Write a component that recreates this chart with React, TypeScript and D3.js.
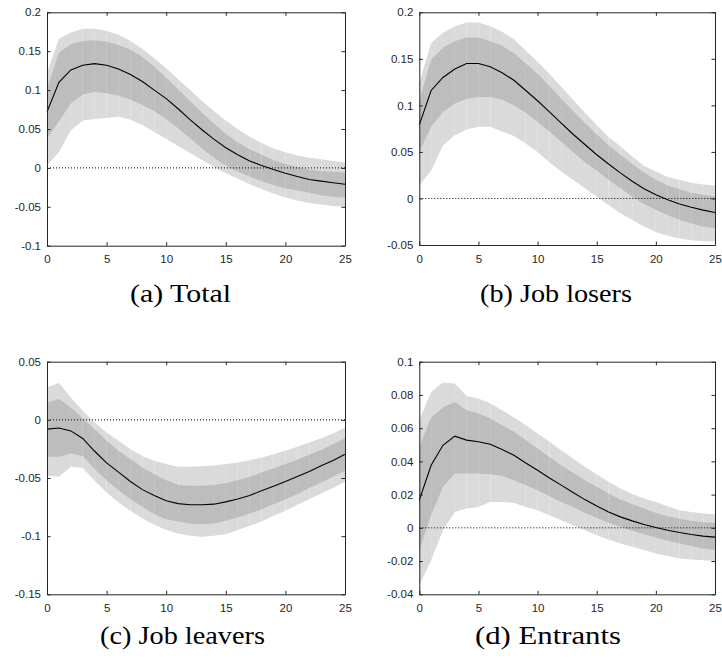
import React, { useEffect, useRef } from "react";
import * as d3 from "d3";

// Horizon (quarters after the shock) and shared x ticks
const steps = [0, 1, 2, 3, 4, 5, 6, 7, 8, 9, 10, 11, 12, 13, 14, 15, 16, 17, 18, 19, 20, 21, 22, 23, 24, 25];
const xTicks = [0, 5, 10, 15, 20, 25];

// (a) Total
const totalMedian = [0.072, 0.110, 0.126, 0.132, 0.134, 0.132, 0.127, 0.120, 0.111, 0.100, 0.089, 0.076, 0.062, 0.049, 0.037, 0.026, 0.017, 0.009, 0.003, -0.002, -0.007, -0.011, -0.015, -0.017, -0.019, -0.021];
const totalInnerUp = [0.102, 0.148, 0.159, 0.163, 0.164, 0.162, 0.158, 0.152, 0.143, 0.130, 0.116, 0.101, 0.086, 0.071, 0.057, 0.044, 0.033, 0.024, 0.017, 0.010, 0.005, 0.001, -0.002, -0.004, -0.005, -0.006];
const totalInnerLo = [0.038, 0.060, 0.083, 0.094, 0.098, 0.096, 0.093, 0.088, 0.081, 0.073, 0.063, 0.051, 0.038, 0.025, 0.013, 0.003, -0.005, -0.011, -0.017, -0.022, -0.026, -0.029, -0.032, -0.035, -0.037, -0.038];
const totalOuterUp = [0.122, 0.166, 0.174, 0.179, 0.179, 0.176, 0.171, 0.163, 0.153, 0.141, 0.128, 0.114, 0.100, 0.086, 0.073, 0.061, 0.050, 0.040, 0.032, 0.025, 0.020, 0.016, 0.013, 0.011, 0.009, 0.007];
const totalOuterLo = [0.003, 0.020, 0.048, 0.061, 0.063, 0.064, 0.066, 0.062, 0.055, 0.046, 0.037, 0.028, 0.019, 0.010, 0.001, -0.007, -0.014, -0.021, -0.027, -0.033, -0.038, -0.042, -0.045, -0.047, -0.049, -0.050];
const totalYTicks = [-0.1, -0.05, 0, 0.05, 0.1, 0.15, 0.2];
const totalYLabels = ["-0.1", "-0.05", "0", "0.05", "0.1", "0.15", "0.2"];

// (b) Job losers
const losersMedian = [0.079, 0.116, 0.130, 0.139, 0.145, 0.145, 0.1415, 0.135, 0.127, 0.116, 0.105, 0.093, 0.081, 0.069, 0.058, 0.047, 0.037, 0.0275, 0.0185, 0.0105, 0.004, -0.0015, -0.006, -0.0095, -0.0125, -0.015];
const losersInnerUp = [0.105, 0.149, 0.162, 0.169, 0.173, 0.173, 0.169, 0.164, 0.156, 0.145, 0.134, 0.121, 0.107, 0.094, 0.081, 0.069, 0.057, 0.047, 0.037, 0.028, 0.020, 0.014, 0.010, 0.006, 0.004, 0.002];
const losersInnerLo = [0.050, 0.077, 0.093, 0.102, 0.107, 0.109, 0.109, 0.106, 0.100, 0.092, 0.082, 0.072, 0.061, 0.050, 0.039, 0.030, 0.020, 0.011, 0.002, -0.006, -0.012, -0.018, -0.023, -0.027, -0.030, -0.032];
const losersOuterUp = [0.124, 0.167, 0.178, 0.185, 0.189, 0.189, 0.185, 0.179, 0.171, 0.159, 0.147, 0.134, 0.120, 0.106, 0.092, 0.079, 0.066, 0.056, 0.045, 0.035, 0.029, 0.023, 0.020, 0.017, 0.015, 0.014];
const losersOuterLo = [0.014, 0.030, 0.057, 0.068, 0.074, 0.077, 0.077, 0.072, 0.067, 0.059, 0.050, 0.039, 0.029, 0.020, 0.011, 0.002, -0.007, -0.016, -0.023, -0.030, -0.036, -0.040, -0.043, -0.045, -0.046, -0.046];
const losersYTicks = [-0.05, 0, 0.05, 0.1, 0.15, 0.2];
const losersYLabels = ["-0.05", "0", "0.05", "0.1", "0.15", "0.2"];

// (c) Job leavers
const leaversMedian = [-0.008, -0.007, -0.0095, -0.016, -0.027, -0.037, -0.045, -0.053, -0.060, -0.065, -0.0695, -0.072, -0.073, -0.073, -0.0725, -0.0705, -0.068, -0.065, -0.061, -0.057, -0.053, -0.0487, -0.0444, -0.0395, -0.035, -0.0295];
const leaversInnerUp = [0.015, 0.018, 0.0106, 0.0014, -0.008, -0.018, -0.0266, -0.0338, -0.041, -0.0467, -0.052, -0.056, -0.0567, -0.0567, -0.056, -0.0542, -0.052, -0.049, -0.0453, -0.0418, -0.038, -0.0344, -0.030, -0.026, -0.021, -0.0158];
const leaversInnerLo = [-0.0318, -0.0318, -0.029, -0.031, -0.0424, -0.0519, -0.0605, -0.0682, -0.0748, -0.0811, -0.0854, -0.0874, -0.0891, -0.0897, -0.0891, -0.0868, -0.084, -0.0805, -0.0768, -0.0725, -0.0682, -0.0639, -0.0587, -0.0539, -0.049, -0.0438];
const leaversOuterUp = [0.0278, 0.032, 0.0192, 0.0077, -0.0023, -0.0109, -0.018, -0.0252, -0.031, -0.0352, -0.038, -0.0404, -0.0404, -0.040, -0.0393, -0.038, -0.0367, -0.0347, -0.0324, -0.0295, -0.0266, -0.0232, -0.0195, -0.0158, -0.0117, -0.0066];
const leaversOuterLo = [-0.048, -0.049, -0.0404, -0.0415, -0.0524, -0.0625, -0.071, -0.0782, -0.0848, -0.0903, -0.0948, -0.0977, -0.0997, -0.1006, -0.0997, -0.0983, -0.0948, -0.0911, -0.0874, -0.0825, -0.0782, -0.073, -0.0682, -0.0633, -0.0587, -0.0533];
const leaversYTicks = [-0.15, -0.1, -0.05, 0, 0.05];
const leaversYLabels = ["-0.15", "-0.1", "-0.05", "0", "0.05"];

// (d) Entrants
const entrantsMedian = [0.0167, 0.0377, 0.0497, 0.0552, 0.0528, 0.0518, 0.0503, 0.0471, 0.0437, 0.039, 0.0347, 0.030, 0.0257, 0.0213, 0.017, 0.0132, 0.0096, 0.0066, 0.0042, 0.002, 0.0002, -0.0014, -0.0028, -0.004, -0.005, -0.0056];
const entrantsInnerUp = [0.0487, 0.0664, 0.0724, 0.0758, 0.0708, 0.0688, 0.0658, 0.0618, 0.0578, 0.0528, 0.0477, 0.0427, 0.0377, 0.0331, 0.0287, 0.0247, 0.0207, 0.0171, 0.0142, 0.0116, 0.009, 0.007, 0.0054, 0.0042, 0.0034, 0.003];
const entrantsInnerLo = [-0.0134, 0.0076, 0.0247, 0.0327, 0.0327, 0.0327, 0.0323, 0.0313, 0.0287, 0.0257, 0.0227, 0.019, 0.0156, 0.0126, 0.009, 0.006, 0.003, 0.0006, -0.0018, -0.0038, -0.0058, -0.0078, -0.0094, -0.011, -0.0124, -0.0134];
const entrantsOuterUp = [0.0648, 0.0818, 0.0875, 0.0869, 0.0794, 0.0778, 0.0748, 0.0708, 0.0664, 0.0618, 0.0568, 0.0518, 0.0467, 0.0417, 0.0367, 0.0323, 0.0277, 0.0237, 0.0203, 0.0176, 0.0156, 0.013, 0.0106, 0.0096, 0.0086, 0.0082];
const entrantsOuterLo = [-0.0345, -0.0195, -0.0014, 0.0096, 0.0116, 0.0126, 0.0156, 0.0156, 0.015, 0.0126, 0.0106, 0.0076, 0.0046, 0.0016, -0.0014, -0.0044, -0.007, -0.0094, -0.0114, -0.0134, -0.0154, -0.017, -0.0184, -0.019, -0.0195, -0.0199];
const entrantsYTicks = [-0.04, -0.02, 0, 0.02, 0.04, 0.06, 0.08, 0.1];
const entrantsYLabels = ["-0.04", "-0.02", "0", "0.02", "0.04", "0.06", "0.08", "0.1"];

const INK = "#262626";
const OUTER_FILL = "#dadada";
const INNER_FILL = "#bdbdbd";

type PanelProps = {
  x0: number; x1: number; y0: number; y1: number;
  yTicks: number[]; yLabels: string[];
  median: number[]; innerUp: number[]; innerLo: number[]; outerUp: number[]; outerLo: number[];
  caption: string; capX: number; capY: number; capW: number;
};

function Panel(p: PanelProps) {
  const axesRef = useRef<SVGGElement>(null);
  const x = d3.scaleLinear().domain([0, 25]).range([p.x0, p.x1]);
  const y = d3
    .scaleLinear()
    .domain([p.yTicks[0], p.yTicks[p.yTicks.length - 1]])
    .range([p.y1, p.y0]);

  useEffect(() => {
    const g = d3.select(axesRef.current);
    g.selectAll("*").remove();
    const labelOf = (v: d3.NumberValue) => p.yLabels[p.yTicks.indexOf(v as number)];
    const bottom = d3.axisBottom(x).tickValues(xTicks).tickSize(-3.5).tickSizeOuter(0).tickPadding(9.5).tickFormat(d3.format("d"));
    const top = d3.axisTop(x).tickValues(xTicks).tickSize(-3.5).tickSizeOuter(0).tickFormat(() => "");
    const left = d3.axisLeft(y).tickValues(p.yTicks).tickSize(-3.5).tickSizeOuter(0).tickPadding(6).tickFormat(labelOf);
    const right = d3.axisRight(y).tickValues(p.yTicks).tickSize(-3.5).tickSizeOuter(0).tickFormat(() => "");
    g.append("g").attr("transform", `translate(0,${p.y1})`).call(bottom);
    g.append("g").attr("transform", `translate(0,${p.y0})`).call(top);
    g.append("g").attr("transform", `translate(${p.x0},0)`).call(left);
    g.append("g").attr("transform", `translate(${p.x1},0)`).call(right);
    g.selectAll(".domain").attr("stroke", INK).attr("stroke-width", 1);
    g.selectAll(".tick line").attr("stroke", INK).attr("stroke-width", 1);
    g.selectAll(".tick text")
      .attr("fill", INK)
      .attr("font-family", "Liberation Sans")
      .attr("font-size", 11.5);
  });

  // Bands are painted one step at a time so each step is its own patch
  const band = (lo: number[], up: number[]) =>
    d3
      .area<number>()
      .x((t) => x(t))
      .y0((t) => y(lo[t]))
      .y1((t) => y(up[t]));
  const outerArea = band(p.outerLo, p.outerUp);
  const innerArea = band(p.innerLo, p.innerUp);
  const segments = steps.slice(0, -1).map((t) => [t, t + 1]);
  const line = d3
    .line<number>()
    .x((t) => x(t))
    .y((t) => y(p.median[t]));

  return (
    <g>
      {segments.map((s) => (
        <path key={`o${s[0]}`} d={outerArea(s) ?? ""} fill={OUTER_FILL} />
      ))}
      {segments.map((s) => (
        <path key={`i${s[0]}`} d={innerArea(s) ?? ""} fill={INNER_FILL} />
      ))}
      <line
        x1={x(0)}
        x2={x(25)}
        y1={y(0)}
        y2={y(0)}
        stroke="#000"
        strokeWidth={1}
        strokeDasharray="1 2"
      />
      <path d={line(steps) ?? ""} fill="none" stroke="#000" strokeWidth={1.1} />
      <g ref={axesRef} />
      <text
        x={p.capX}
        y={p.capY}
        textLength={p.capW}
        lengthAdjust="spacingAndGlyphs"
        fontFamily="Liberation Serif"
        fontSize={25}
        fill="#000"
      >
        {p.caption}
      </text>
    </g>
  );
}

export default function App() {
  return (
    <svg
      width={722}
      height={662}
      style={{ position: "absolute", left: 0, top: 0, background: "#fff" }}
    >
      <rect width={722} height={662} fill="#fff" />
      <Panel
        x0={47} x1={345} y0={12.3} y1={245.7}
        yTicks={totalYTicks} yLabels={totalYLabels}
        median={totalMedian} innerUp={totalInnerUp} innerLo={totalInnerLo}
        outerUp={totalOuterUp} outerLo={totalOuterLo}
        caption="(a) Total" capX={130} capY={302} capW={101}
      />
      <Panel
        x0={419.3} x1={715} y0={12.3} y1={245}
        yTicks={losersYTicks} yLabels={losersYLabels}
        median={losersMedian} innerUp={losersInnerUp} innerLo={losersInnerLo}
        outerUp={losersOuterUp} outerLo={losersOuterLo}
        caption="(b) Job losers" capX={480} capY={302} capW={152}
      />
      <Panel
        x0={47} x1={345} y0={361.7} y1={594.3}
        yTicks={leaversYTicks} yLabels={leaversYLabels}
        median={leaversMedian} innerUp={leaversInnerUp} innerLo={leaversInnerLo}
        outerUp={leaversOuterUp} outerLo={leaversOuterLo}
        caption="(c) Job leavers" capX={100} capY={644} capW={165}
      />
      <Panel
        x0={419.3} x1={715} y0={361.7} y1={594.3}
        yTicks={entrantsYTicks} yLabels={entrantsYLabels}
        median={entrantsMedian} innerUp={entrantsInnerUp} innerLo={entrantsInnerLo}
        outerUp={entrantsOuterUp} outerLo={entrantsOuterLo}
        caption="(d) Entrants" capX={475} capY={644} capW={146}
      />
    </svg>
  );
}
